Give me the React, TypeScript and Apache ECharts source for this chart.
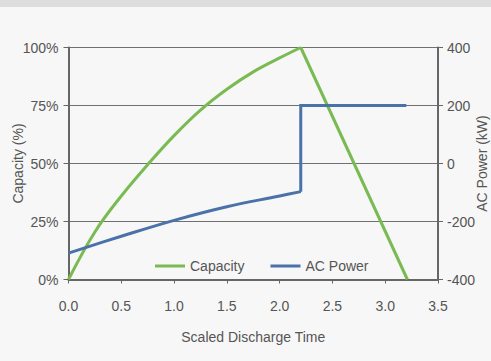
import React, { useEffect, useRef } from "react";
import * as echarts from "echarts";

const xTicks = [0, 0.5, 1.0, 1.5, 2.0, 2.5, 3.0, 3.5];
const capacityRiseT = [0, 0.25, 0.5, 0.75, 1.0, 1.25, 1.5, 1.75, 2.0, 2.2];
const capacityRiseV = [0, 20.5, 36, 49.5, 62, 73, 82, 89.5, 95.5, 100];
const capacityFallT = [2.2, 3.21];
const capacityFallV = [100, 0];
const powerRiseT = [0, 0.5, 1.0, 1.5, 2.0, 2.2];
const powerRiseV = [-309, -251, -196, -149, -112, -97];
const powerStepT = [2.2, 2.2, 3.2];
const powerStepV = [-97, 200, 200];

const FONT = "'Liberation Sans', Arial, sans-serif";
const GREEN = "#79bb52";
const BLUE = "#4a72a8";
const AXIS = "#666666";
const TEXT = "#555555";

export default function App() {
  const ref = useRef<HTMLDivElement>(null);
  useEffect(() => {
    document.body.style.margin = "0";
    const chart = echarts.init(ref.current!, undefined, { renderer: "svg" });
    const zip = (a: number[], b: number[]) => a.map((v, i) => [v, b[i]]);
    chart.setOption({
      animation: false,
      backgroundColor: "#f7f7f7",
      textStyle: { fontFamily: FONT },
      graphic: [
        { type: "rect", left: 0, top: 0, shape: { width: 491, height: 7 }, style: { fill: "#dcdddc" }, silent: true },
      ],
      grid: { left: 68.5, top: 47.5, right: 53, bottom: 81.5, containLabel: false, outerBoundsMode: "none" },
      legend: {
        left: 150,
        top: 254,
        itemWidth: 30,
        itemHeight: 3,
        itemGap: 26,
        icon: "rect",
        textStyle: { color: TEXT, fontSize: 14, fontFamily: FONT },
        data: [
          { name: "Capacity", itemStyle: { color: GREEN } },
          { name: "AC Power", itemStyle: { color: BLUE } },
        ],
      },
      xAxis: {
        type: "value",
        min: 0,
        max: 3.5,
        interval: 0.5,
        name: "Scaled Discharge Time",
        nameLocation: "middle",
        nameGap: 50,
        nameMoveOverlap: false,
        nameTextStyle: { color: TEXT, fontSize: 14, fontFamily: FONT },
        axisLine: { show: true, onZero: false, lineStyle: { color: AXIS, width: 2 } },
        axisTick: { show: true, length: 4, lineStyle: { color: AXIS, width: 1 } },
        axisLabel: {
          color: TEXT,
          fontSize: 14,
          fontFamily: FONT,
          margin: 19,
          formatter: (v: number) => (xTicks.includes(v) ? v.toFixed(1) : ""),
        },
        splitLine: { show: false },
      },
      yAxis: [
        {
          type: "value",
          min: 0,
          max: 100,
          interval: 25,
          position: "left",
          name: "Capacity (%)",
          nameLocation: "middle",
          nameRotate: 90,
          nameGap: 51,
          nameMoveOverlap: false,
          nameTextStyle: { color: TEXT, fontSize: 14, fontFamily: FONT, verticalAlign: "middle" },
          axisLine: { show: true, lineStyle: { color: AXIS, width: 2 } },
          axisTick: { show: true, length: 5, lineStyle: { color: AXIS, width: 1 } },
          axisLabel: { color: TEXT, fontSize: 14, fontFamily: FONT, margin: 10, formatter: "{value}%" },
          splitLine: { show: true, lineStyle: { color: "#707070", width: 1 } },
        },
        {
          type: "value",
          min: -400,
          max: 400,
          interval: 200,
          position: "right",
          name: "AC Power (kW)",
          nameLocation: "middle",
          nameRotate: 90,
          nameGap: 44,
          nameMoveOverlap: false,
          nameTextStyle: { color: TEXT, fontSize: 14, fontFamily: FONT, verticalAlign: "middle" },
          axisLine: { show: true, lineStyle: { color: AXIS, width: 2 } },
          axisTick: { show: true, length: 5, lineStyle: { color: AXIS, width: 1 } },
          axisLabel: { color: TEXT, fontSize: 14, fontFamily: FONT, margin: 9 },
          splitLine: { show: false },
        },
      ],
      series: [
        {
          name: "Capacity",
          type: "line",
          yAxisIndex: 0,
          data: zip(capacityRiseT, capacityRiseV),
          smooth: 0.4,
          symbol: "none",
          lineStyle: { color: GREEN, width: 3 },
          itemStyle: { color: GREEN },
        },
        {
          name: "Capacity",
          type: "line",
          yAxisIndex: 0,
          data: zip(capacityFallT, capacityFallV),
          symbol: "none",
          lineStyle: { color: GREEN, width: 3 },
          itemStyle: { color: GREEN },
        },
        {
          name: "AC Power",
          type: "line",
          yAxisIndex: 1,
          data: zip(powerRiseT, powerRiseV),
          smooth: 0.4,
          symbol: "none",
          lineStyle: { color: BLUE, width: 3 },
          itemStyle: { color: BLUE },
        },
        {
          name: "AC Power",
          type: "line",
          yAxisIndex: 1,
          data: zip(powerStepT, powerStepV),
          symbol: "none",
          lineStyle: { color: BLUE, width: 3, join: "miter" },
          itemStyle: { color: BLUE },
        },
      ],
    });
    return () => chart.dispose();
  }, []);
  return <div ref={ref} style={{ width: 491, height: 361 }} />;
}
